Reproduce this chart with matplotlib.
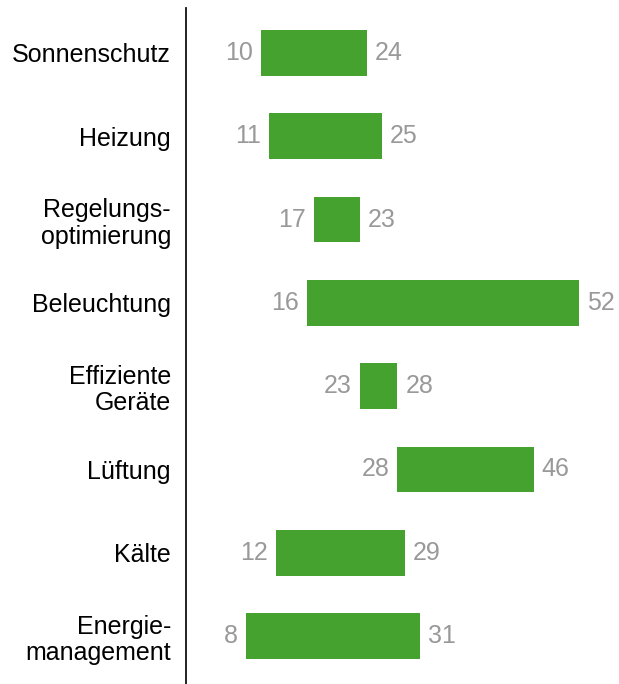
import matplotlib
matplotlib.use('Agg')
import matplotlib.pyplot as plt
import numpy as np

plt.rcParams['font.family'] = ['Liberation Sans', 'DejaVu Sans']

categories = ['Sonnenschutz', 'Heizung', 'Regelungs-\noptimierung', 'Beleuchtung',
              'Effiziente\nGeräte', 'Lüftung', 'Kälte', 'Energie-\nmanagement']
low = [10, 11, 17, 16, 23, 28, 12, 8]
high = [24, 26, 23, 52, 28, 46, 29, 31]
# printed labels (Heizung bar is drawn a bit longer than its label says)
low_labels = ['10', '11', '17', '16', '23', '28', '12', '8']
high_labels = ['24', '25', '23', '52', '28', '46', '29', '31']

green = '#45a22e'
grey = '#999999'

fig = plt.figure(figsize=(6.19, 6.84), dpi=100)
ax = fig.add_axes([185.5 / 619, 0, 1 - 185.5 / 619, 1 - 8 / 684])

y = np.arange(len(categories))
widths = [h - l for l, h in zip(low, high)]
ax.barh(y, widths, left=low, height=0.55, color=green)

for yi, l, h, ll, hl in zip(y, low, high, low_labels, high_labels):
    ax.text(l - 1.05, yi, ll, ha='right', va='center', fontsize=18, color=grey)
    ax.text(h + 1.05, yi, hl, ha='left', va='center', fontsize=18, color=grey)

ax.set_xlim(0, 57.3)
ax.set_ylim(7.576, -0.540)
ax.set_yticks(y)
ax.set_yticklabels(categories, fontsize=18, linespacing=1.15)
ax.tick_params(axis='y', length=0, pad=10.5)
ax.set_xticks([])
for s in ['top', 'right', 'bottom']:
    ax.spines[s].set_visible(False)
ax.spines['left'].set_linewidth(1.3)
ax.spines['left'].set_color('#111111')

fig.savefig('out.png', dpi=100)
